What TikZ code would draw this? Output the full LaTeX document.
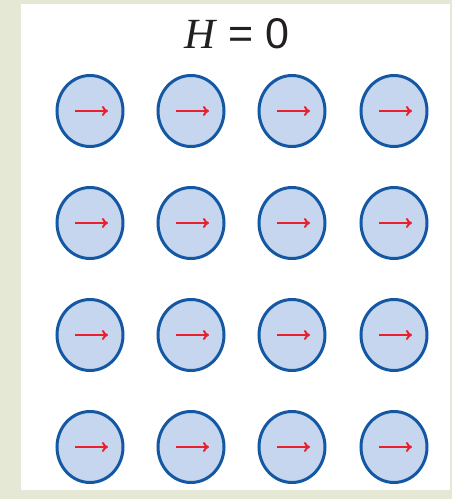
\documentclass[tikz,border=0pt]{standalone}
\usepackage{fontspec}
\usepackage{xcolor}
\usepackage{tikz}
\usetikzlibrary{shapes.geometric, arrows.meta, positioning, calc}

\newfontfamily\symbolserif{Liberation Serif}
\newfontfamily\valuesans{Liberation Sans}

\definecolor{paper}{RGB}{230,232,214}
\definecolor{grainedge}{RGB}{20,88,163}
\definecolor{grainfill}{RGB}{198,214,238}
\definecolor{spinred}{RGB}{232,34,44}
\definecolor{ink}{RGB}{35,31,32}

\begin{document}
\begin{tikzpicture}[
      x=1pt, y=1pt,
      grain/.style={draw=grainedge, line width=3pt, fill=grainfill, ellipse,
                    minimum width=66pt, minimum height=71pt, inner sep=0pt},
      spin/.style={-{To[length=6pt, width=10pt]}, draw=spinred, line width=2pt},
      title/.style={font=\fontsize{43}{48}\selectfont, text=ink, anchor=base}
    ]
      \useasboundingbox (0,0) rectangle (452,499);
      \fill[paper] (0,0) rectangle (452,499);
      \fill[white] (21,9) rectangle (450,495);
      \node[title] (field) at (237,450) {{\symbolserif\itshape H} {\valuesans= 0}};
      % grains, all spins point to the right
      \foreach \r [count=\i] in {388,276,164,52} {
        \foreach \c [count=\j] in {90,191,292,394} {
          \node[grain] (g\i\j) at (\c,\r) {};
          \draw[spin] ($(g\i\j.center)+(-15,0)$) -- ($(g\i\j.center)+(18,0)$);
        }
      }
    \end{tikzpicture}
\end{document}
